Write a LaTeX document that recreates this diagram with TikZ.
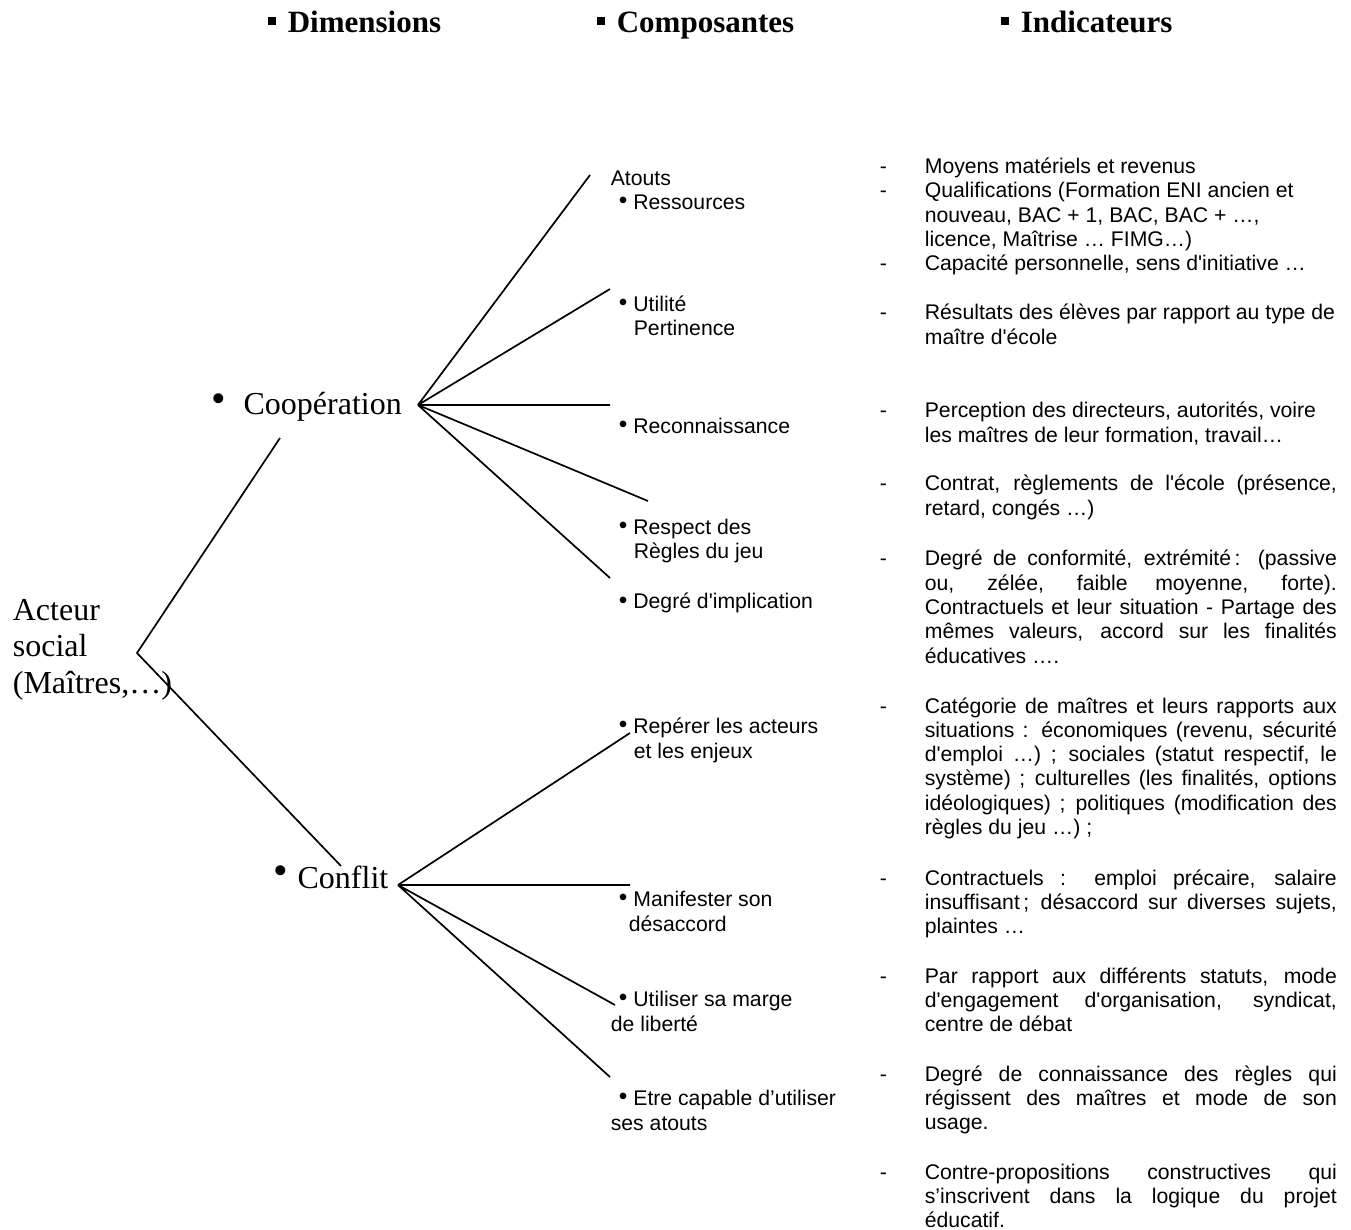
\documentclass[tikz,border=0pt]{standalone}
\usepackage{fontspec}
\setmainfont{Liberation Serif}
\newfontfamily\arial[Ligatures=TeXOff]{Liberation Sans}
\newcommand{\puce}{\raisebox{0.5pt}{\scalebox{1.15}{\textbullet}}\hspace{3pt}}
\newcommand{\tiret}{\leavevmode\llap{-\hspace{19pt}}}
\tolerance=10000
\hyphenpenalty=10000
\exhyphenpenalty=10000

\begin{document}
\begin{tikzpicture}[x=0.5pt,y=-0.5pt,line width=0.85pt,
                    titre/.style={anchor=base west,inner sep=0pt,font=\fontsize{15.5}{18}\selectfont\bfseries},
                    dimtxt/.style={anchor=base west,inner sep=0pt,align=left,font=\fontsize{16}{18.25}\selectfont},
                    compo/.style={anchor=base west,inner sep=0pt,align=left,font=\arial\fontsize{10.6}{12.15}\selectfont},
                    indic/.style={anchor=base west,inner sep=0pt,text width=206pt,align=justify,font=\arial\fontsize{10.6}{12.15}\selectfont}]
\useasboundingbox (0,0) rectangle (1351,1230);

\node[titre] (dims) at (267,33) {\rule[3.75pt]{4pt}{4pt}\hspace{6pt}Dimensions};
\node[titre] (compos) at (596,33) {\rule[3.75pt]{4pt}{4pt}\hspace{6pt}Composantes};
\node[titre] (indics) at (1000,33) {\rule[3.75pt]{4pt}{4pt}\hspace{6pt}Indicateurs};

\node[dimtxt] (acteur) at (12,693) {Acteur\\social\\(Maîtres,…)};
\node[dimtxt] (coop) at (211,415) {\raisebox{1pt}{\scalebox{1.3}{\textbullet}}\hspace{8.6pt}Coopération};
\node[dimtxt] (conflit) at (273,888) {\raisebox{2pt}{\scalebox{1.3}{\textbullet}}\hspace{4.6pt}Conflit};

\node[compo] (atouts) at (610,210) {Atouts\\\hspace{4pt}\puce Ressources};
\node[compo] (utilite) at (618,336) {\puce Utilité\\\hspace{7.5pt}Pertinence};
\node[compo] (recon) at (618,434) {\puce Reconnaissance};
\node[compo] (respect) at (618,559) {\puce Respect des\\\hspace{7.5pt}Règles du jeu};
\node[compo] (implic) at (618,609) {\puce Degré d'implication};
\node[compo] (reperer) at (618,758) {\puce Repérer les acteurs\\\hspace{7.5pt}et les enjeux};
\node[compo] (manif) at (618,931) {\puce Manifester son\\\hspace{5pt}désaccord};
\node[compo] (marge) at (610,1031) {\hspace{4pt}\puce Utiliser sa marge\\de liberté};
\node[compo] (capable) at (610,1130) {\hspace{4pt}\puce Etre capable d’utiliser\\ses atouts};

\node[indic] (moyens) at (924,174) {\tiret Moyens matériels et revenus};
\node[indic] (qualif) at (924,198) {\tiret Qualifications (Formation ENI ancien et\\nouveau, BAC + 1, BAC, BAC + …,\\licence, Maîtrise … FIMG…)};
\node[indic] (capac) at (924,271) {\tiret Capacité personnelle, sens d'initiative …};
\node[indic] (result) at (924,320) {\tiret Résultats des élèves par rapport au type de\\maître d'école};
\node[indic] (percep) at (924,418) {\tiret Perception des directeurs, autorités, voire\\les maîtres de leur formation, travail…};
\node[indic] (contrat) at (924,491) {\tiret Contrat, règlements de l'école (présence,\linebreak retard, congés …)};
\node[indic] (conform) at (924,566) {\tiret Degré de conformité, extrémité\,: (passive\linebreak ou, zélée, faible moyenne, forte).\linebreak Contractuels et leur situation - Partage des\linebreak mêmes valeurs, accord sur les finalités\linebreak éducatives ….};
\node[indic] (categ) at (924,713) {\tiret Catégorie de maîtres et leurs rapports aux\linebreak situations : économiques (revenu, sécurité\linebreak d'emploi …) ; sociales (statut respectif, le\linebreak système) ; culturelles (les finalités, options\linebreak idéologiques) ; politiques (modification des\linebreak règles du jeu …) ;};
\node[indic] (precaire) at (924,885) {\tiret Contractuels : emploi précaire, salaire\linebreak insuffisant\,; désaccord sur diverses sujets,\linebreak plaintes …};
\node[indic] (statuts) at (924,983) {\tiret Par rapport aux différents statuts, mode\linebreak d'engagement d'organisation, syndicat,\linebreak centre de débat};
\node[indic] (connais) at (924,1081) {\tiret Degré de connaissance des règles qui\linebreak régissent des maîtres et mode de son\linebreak usage.};
\node[indic] (contrep) at (924,1179) {\tiret Contre-propositions constructives qui\linebreak s’inscrivent dans la logique du projet\linebreak éducatif.};

\coordinate (racine) at (137,653);
\coordinate (coopbas) at (280,438);
\coordinate (conflithaut) at (341,866);
\coordinate (coopv) at (418,405);
\coordinate (confv) at (398,885);
\coordinate (a1) at (590,175);
\coordinate (a2) at (610,289);
\coordinate (a3) at (610,405);
\coordinate (a4) at (648,501);
\coordinate (a5) at (610,578);
\coordinate (b1) at (630,733);
\coordinate (b2) at (630,885);
\coordinate (b3) at (615,1005);
\coordinate (b4) at (610,1077);

\draw (coopbas) -- (racine) -- (conflithaut);
\draw (coopv) -- (a1) (coopv) -- (a2) (coopv) -- (a3) (coopv) -- (a4) (coopv) -- (a5);
\draw (confv) -- (b1) (confv) -- (b2) (confv) -- (b3) (confv) -- (b4);
\end{tikzpicture}
\end{document}
